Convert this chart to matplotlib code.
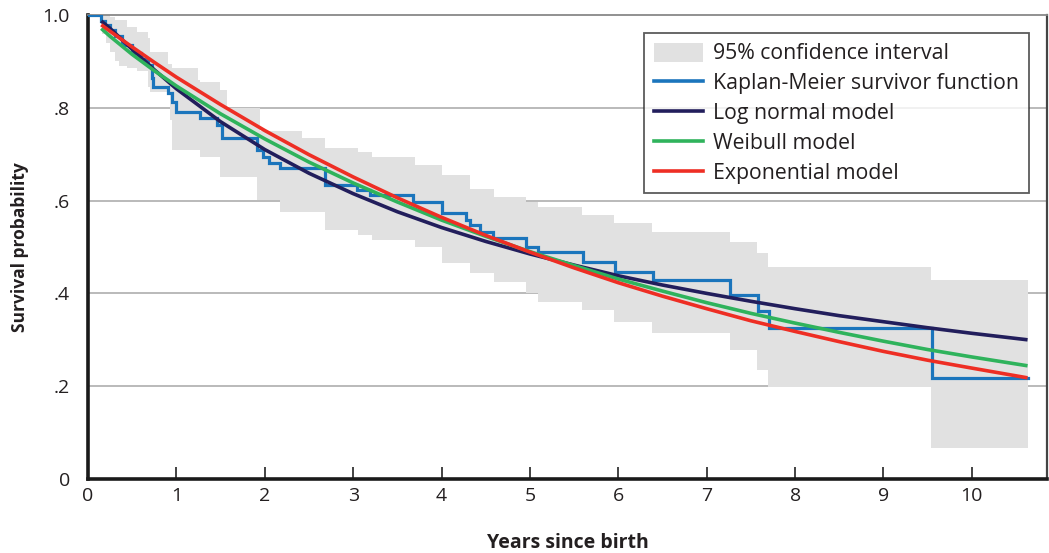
import numpy as np
import matplotlib
matplotlib.use("Agg")
import matplotlib.pyplot as plt
from matplotlib.patches import Patch
from matplotlib.lines import Line2D

plt.rcParams['font.family'] = ['Open Sans', 'DejaVu Sans']

# Kaplan-Meier survivor function (step, post)
km_t = [0, 0.15, 0.19, 0.25, 0.30, 0.38, 0.50, 0.60, 0.68, 0.72, 0.74, 0.90, 0.95, 1.00,
        1.27, 1.46, 1.52, 1.91, 1.98, 2.05, 2.17, 2.68, 3.04, 3.19, 3.68, 4.00, 4.28, 4.32,
        4.43, 4.58, 4.96, 5.09, 5.60, 5.96, 6.39, 7.26, 7.58, 7.70, 9.55, 10.63]
km_s = [1.0, 0.986, 0.978, 0.968, 0.955, 0.935, 0.918, 0.905, 0.893, 0.865, 0.845, 0.831,
        0.812, 0.792, 0.777, 0.763, 0.734, 0.709, 0.695, 0.680, 0.670, 0.634, 0.623, 0.612,
        0.598, 0.573, 0.558, 0.547, 0.533, 0.519, 0.500, 0.490, 0.468, 0.447, 0.429, 0.397,
        0.361, 0.325, 0.218, 0.218]

# 95% confidence interval (step, post)
ci_t = [0.155, 0.20, 0.25, 0.31, 0.35, 0.44, 0.55, 0.68, 0.70, 0.91, 0.93, 0.95, 1.25, 1.27,
        1.49, 1.57, 1.91, 1.95, 2.17, 2.42, 2.68, 3.05, 3.21, 3.70, 4.01, 4.32, 4.59, 4.96,
        5.09, 5.59, 5.95, 6.38, 7.26, 7.57, 7.69, 9.54, 10.63]
ci_upper = [1.0, 1.0, 0.995, 0.99, 0.99, 0.975, 0.964, 0.950, 0.920, 0.895, 0.895, 0.885,
            0.860, 0.856, 0.838, 0.799, 0.799, 0.749, 0.749, 0.735, 0.713, 0.705, 0.695,
            0.677, 0.655, 0.626, 0.608, 0.598, 0.587, 0.569, 0.551, 0.533, 0.511, 0.486,
            0.457, 0.429, 0.429]
ci_lower = [0.960, 0.940, 0.920, 0.900, 0.890, 0.885, 0.880, 0.845, 0.835, 0.830, 0.774,
            0.709, 0.709, 0.695, 0.651, 0.651, 0.601, 0.601, 0.576, 0.576, 0.537, 0.526,
            0.515, 0.500, 0.465, 0.443, 0.425, 0.400, 0.382, 0.364, 0.339, 0.315, 0.277,
            0.235, 0.198, 0.066, 0.066]

# Parametric model curves (read at selected years)
model_t = [0.15, 0.25, 0.5, 0.75, 1, 1.5, 2, 2.5, 3, 3.5, 4, 4.5, 5, 5.5, 6, 6.5, 7, 7.5,
           8, 8.5, 9, 9.5, 10, 10.63]
lognormal_s = [0.987, 0.971, 0.926, 0.882, 0.841, 0.770, 0.710, 0.659, 0.615, 0.576, 0.542,
               0.512, 0.485, 0.461, 0.438, 0.418, 0.400, 0.383, 0.367, 0.352, 0.339, 0.326,
               0.314, 0.300]
weibull_s = [0.971, 0.954, 0.915, 0.880, 0.847, 0.787, 0.733, 0.683, 0.638, 0.597, 0.558,
             0.523, 0.490, 0.460, 0.431, 0.405, 0.380, 0.357, 0.336, 0.316, 0.297, 0.279,
             0.263, 0.244]
exponential_s = [0.979, 0.965, 0.931, 0.898, 0.866, 0.807, 0.751, 0.699, 0.651, 0.606, 0.564,
                 0.525, 0.489, 0.455, 0.423, 0.394, 0.367, 0.341, 0.318, 0.296, 0.275, 0.256,
                 0.239, 0.218]

x_ticks = [0, 1, 2, 3, 4, 5, 6, 7, 8, 9, 10]
y_ticks = [0, 0.2, 0.4, 0.6, 0.8, 1.0]
y_tick_labels = ["0", ".2", ".4", ".6", ".8", "1.0"]

c_band = "#e1e1e1"
c_km = "#1b75bc"
c_ln = "#221e5c"
c_wb = "#2fb35c"
c_ex = "#ee2e24"

fig = plt.figure(figsize=(10.49, 5.53), dpi=100)
ax = fig.add_axes([88/1049, 1 - 479/553, 959/1049, 464/553])

ax.set_xlim(0, 10.85)
ax.set_ylim(0, 1.0)

for yv in y_ticks[1:-1]:
    ax.axhline(yv, color="#b4b4b4", lw=1.3, zorder=0)

ax.fill_between(ci_t, ci_lower, ci_upper, step="post", color=c_band, lw=0, zorder=1)
ax.step(km_t, km_s, where="post", color=c_km, lw=2.3, zorder=3, solid_joinstyle="miter")
ax.plot(model_t, lognormal_s, color=c_ln, lw=2.6, zorder=4, solid_capstyle="butt")
ax.plot(model_t, weibull_s, color=c_wb, lw=2.6, zorder=5, solid_capstyle="butt")
ax.plot(model_t, exponential_s, color=c_ex, lw=2.6, zorder=6, solid_capstyle="butt")

ax.set_xticks(x_ticks)
ax.set_xticklabels([str(v) for v in x_ticks])
ax.set_yticks(y_ticks)
ax.set_yticklabels(y_tick_labels)
ax.tick_params(axis="x", direction="in", length=9, width=1.2, color="#222222",
               labelsize=14, pad=6, labelcolor="#231f20")
ax.tick_params(axis="y", length=0, labelsize=14, pad=13, labelcolor="#231f20")

ax.spines["left"].set_linewidth(2.6)
ax.spines["left"].set_color("#1a1a1a")
ax.spines["bottom"].set_linewidth(2.6)
ax.spines["bottom"].set_color("#1a1a1a")
ax.spines["right"].set_linewidth(1.6)
ax.spines["right"].set_color("#444444")
ax.spines["top"].set_linewidth(1.3)
ax.spines["top"].set_color("#888888")

ax.set_xlabel("Years since birth", fontsize=14, fontweight="bold", labelpad=20,
              color="#231f20")
ax.set_ylabel("Survival probability", fontsize=12.5, fontweight="bold", labelpad=10,
              color="#231f20")

handles = [
    Patch(facecolor=c_band, edgecolor="none"),
    Line2D([], [], color=c_km, lw=2.6),
    Line2D([], [], color=c_ln, lw=2.6),
    Line2D([], [], color=c_wb, lw=2.6),
    Line2D([], [], color=c_ex, lw=2.6),
]
labels = ["95% confidence interval", "Kaplan-Meier survivor function",
          "Log normal model", "Weibull model", "Exponential model"]
leg = ax.legend(handles, labels, loc="upper right", bbox_to_anchor=(0.981, 0.961),
                fontsize=15.3, frameon=True, fancybox=False, handlelength=2.3,
                handleheight=1.0, labelspacing=0.38, handletextpad=0.5,
                borderpad=0.45, borderaxespad=0)
leg.get_frame().set_edgecolor("#333333")
leg.get_frame().set_linewidth(1.3)
leg.set_zorder(10)
for t in leg.get_texts():
    t.set_color("#231f20")

fig.savefig("out.png", dpi=100)
